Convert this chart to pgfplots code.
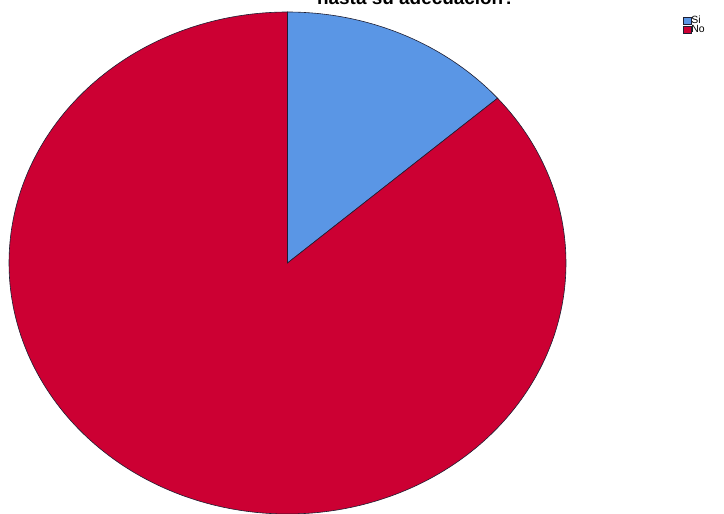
\documentclass[border=0pt]{standalone}
\usepackage{pgfplots}
\usepackage{pgfplotstable}
\usepackage{fontspec}
\setmainfont{Liberation Sans}
\pgfplotsset{compat=1.18}
\definecolor{siblue}{RGB}{90,150,229}
\definecolor{nored}{RGB}{204,0,51}
\definecolor{edge}{RGB}{30,30,50}
\pgfplotstableread{
cat pct
Si 13.6
No 86.4
}\piedata
\pgfplotstablegetelem{0}{pct}\of\piedata \let\sipct\pgfplotsretval
\pgfplotstablegetelem{1}{pct}\of\piedata \let\nopct\pgfplotsretval
\pgfmathsetmacro{\sistart}{90-3.6*\sipct}
\pgfmathsetmacro{\nostart}{\sistart-3.6*\nopct}
\begin{document}
\begin{tikzpicture}
\path[use as bounding box, clip] (0,0) rectangle (724bp,514bp);
\fill[white] (0,0) rectangle (724bp,514bp);
\begin{axis}[
  at={(0,0)}, anchor=south west,
  scale only axis, width=724bp, height=514bp,
  xmin=0, xmax=724, ymin=0, ymax=514,
  hide axis, clip=false,
  legend style={at={(axis cs:682.5,498)}, anchor=north west, draw=none, fill=none,
    font=\fontsize{10.5}{10}\selectfont, inner sep=0pt, row sep=0pt,
    nodes={inner sep=0.3bp, text height=6.8bp, text depth=1.6bp}},
  legend cell align=left,
  legend image code/.code={\draw[#1, draw=edge, line width=0.4bp] (0bp,-3.8bp) rectangle (8bp,3.8bp);},
]
\addplot[fill=siblue, draw=edge, line width=0.6bp, domain=\sistart:90, samples=80, variable=\t]
  ({287.5+278.5*cos(t)},{251+251*sin(t)}) -- (axis cs:287.5,251) -- cycle;
\addlegendentry{Si}
\addplot[fill=nored, draw=edge, line width=0.6bp, domain=\nostart:\sistart, samples=300, variable=\t]
  ({287.5+278.5*cos(t)},{251+251*sin(t)}) -- (axis cs:287.5,251) -- cycle;
\addlegendentry{No}
\node[anchor=base, font=\fontsize{19}{19}\selectfont\bfseries, inner sep=0pt] at (axis cs:416,509.5) {hasta su adecuación?};
\end{axis}
\end{tikzpicture}
\end{document}
